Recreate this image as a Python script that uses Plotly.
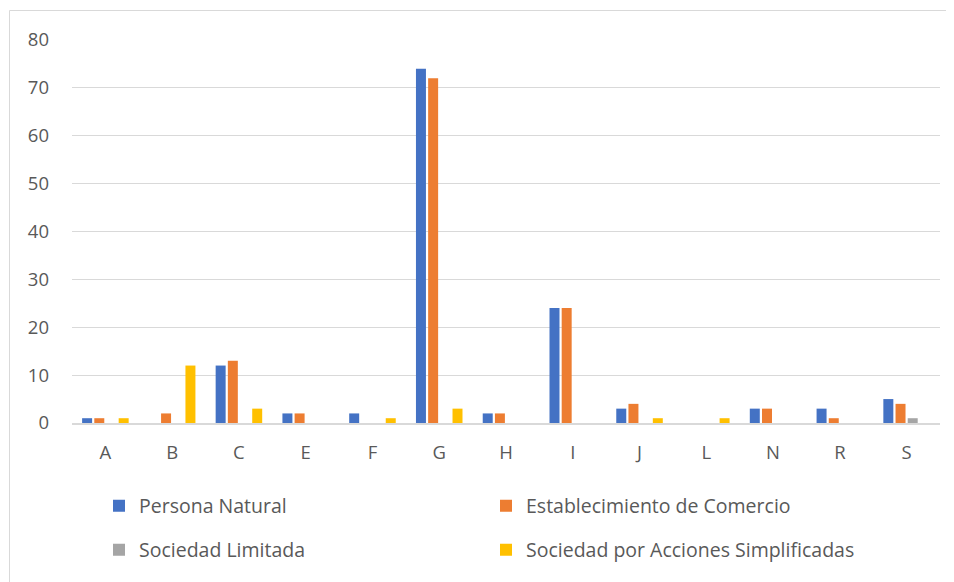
import plotly.graph_objs as go

categories = ['A', 'B', 'C', 'E', 'F', 'G', 'H', 'I', 'J', 'L', 'N', 'R', 'S']
persona_natural = [1, 0, 12, 2, 2, 74, 2, 24, 3, 0, 3, 3, 5]
establecimiento = [1, 2, 13, 2, 0, 72, 2, 24, 4, 0, 3, 1, 4]
sociedad_limitada = [0, 0, 0, 0, 0, 0, 0, 0, 0, 0, 0, 0, 1]
sociedad_sas = [1, 12, 3, 0, 1, 3, 0, 0, 1, 1, 0, 0, 0]

series = [
    ('Persona Natural', persona_natural, '#4472C4', 'legend'),
    ('Establecimiento de Comercio', establecimiento, '#ED7D31', 'legend'),
    ('Sociedad Limitada', sociedad_limitada, '#A5A5A5', 'legend2'),
    ('Sociedad por Acciones Simplificadas', sociedad_sas, '#FFC000', 'legend2'),
]

fig = go.Figure()
for name, vals, color, leg in series:
    fig.add_trace(go.Bar(
        x=categories,
        y=vals,
        name=name,
        legend=leg,
        marker=dict(color=color, line=dict(width=0)),
    ))

# page has an 8px body margin, so the figure is a bit smaller than the window
off = 8
W, H = 954 - off, 582 - off
left, right, top, bottom = 72, 940, 40, 423   # plot area in page pixels
ml, mt = left - off, top - off
mr, mb = W - (right - off), H - (bottom - off)
pw = W - ml - mr
ph = H - mt - mb

leg_common = dict(
    orientation='h',
    xanchor='left',
    yanchor='middle',
    entrywidth=342,
    entrywidthmode='pixels',
    font=dict(size=19.5, color='#595959'),
    bgcolor='rgba(0,0,0,0)',
)

fig.update_layout(
    width=W,
    height=H,
    template='plotly_white',
    paper_bgcolor='white',
    plot_bgcolor='white',
    margin=dict(l=ml, r=mr, t=mt, b=mb, autoexpand=False),
    barmode='group',
    bargap=0.27,
    bargroupgap=0.18,
    font=dict(family='Open Sans, Liberation Sans, sans-serif', color='#595959', size=18.5),
    xaxis=dict(
        showgrid=False,
        showline=True,
        linecolor='#D9D9D9',
        linewidth=1.5,
        ticks='',
        ticklabelstandoff=12,
    ),
    yaxis=dict(
        range=[0, 80],
        dtick=10,
        showgrid=True,
        gridcolor='#D9D9D9',
        gridwidth=1,
        zeroline=False,
        ticks='',
        ticklabelstandoff=22,
    ),
    legend=dict(leg_common, x=(99 - left) / pw, y=-(506 - bottom) / ph),
    legend2=dict(leg_common, x=(99 - left) / pw, y=-(550 - bottom) / ph),
    shapes=[dict(
        type='rect',
        xref='paper', yref='paper',
        x0=(9.5 - left) / pw, x1=(970 - left) / pw,
        y0=-(600 - bottom) / ph, y1=(bottom - 10.5) / ph,
        line=dict(color='#D9D9D9', width=1),
        fillcolor='rgba(0,0,0,0)',
        layer='below',
    )],
)

fig.write_html("out.html")
